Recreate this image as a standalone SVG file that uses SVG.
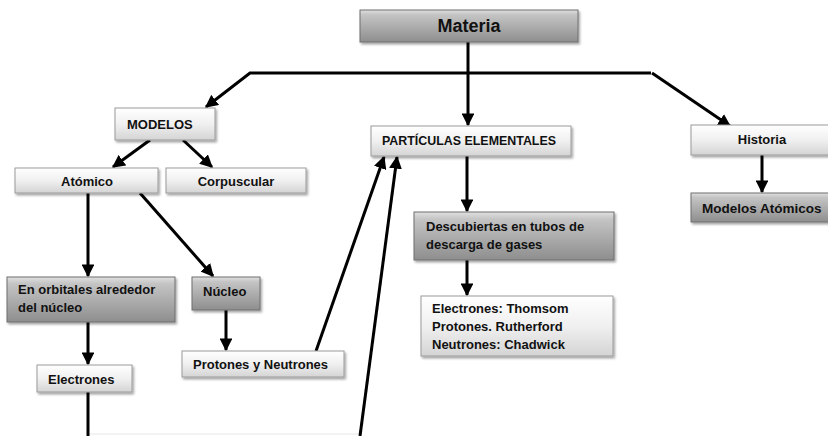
<svg xmlns="http://www.w3.org/2000/svg" width="828" height="436" viewBox="0 0 828 436">
<defs>
<linearGradient id="gLight" x1="0" y1="0" x2="0" y2="1">
<stop offset="0" stop-color="#ffffff"/>
<stop offset="0.5" stop-color="#f0f0f0"/>
<stop offset="1" stop-color="#d4d4d4"/>
</linearGradient>
<linearGradient id="gDark" x1="0" y1="0" x2="0" y2="1">
<stop offset="0" stop-color="#e0e0e0"/>
<stop offset="0.15" stop-color="#c4c4c4"/>
<stop offset="1" stop-color="#8e8e8e"/>
</linearGradient>
<filter id="sh" x="-10%" y="-20%" width="125%" height="160%">
<feDropShadow dx="1.5" dy="2" stdDeviation="1.2" flood-color="#000" flood-opacity="0.35"/>
</filter>
<marker id="ah" viewBox="0 0 10 10" refX="9" refY="5" markerWidth="4.3" markerHeight="4.3" orient="auto" markerUnits="strokeWidth">
<path d="M0,0 L10,5 L0,10 z" fill="#000"/>
</marker>
</defs>
<style>
.light{fill:url(#gLight);stroke:#9a9a9a;stroke-width:1;filter:url(#sh)}
.dark{fill:url(#gDark);stroke:#6e6e6e;stroke-width:1;filter:url(#sh)}
.t{font-family:"Liberation Sans",Arial,sans-serif;font-weight:bold;font-size:13px;fill:#111}
.c{stroke:#000;stroke-width:3;fill:none;stroke-linejoin:miter}
.a{marker-end:url(#ah)}
</style>
<rect width="828" height="436" fill="#fff"/>
<g id="connectors">
<line class="c" x1="88" y1="434" x2="360" y2="434" style="stroke:#e6e6e6;stroke-width:1"/>
<line class="c a" x1="468" y1="42" x2="468" y2="125"/>
<polyline class="c a" points="651,73 250,73 206,107"/>
<polyline class="c a" points="652,73 730,126"/>
<line class="c a" x1="150" y1="140" x2="113" y2="167"/>
<line class="c a" x1="183" y1="140" x2="212" y2="167"/>
<line class="c a" x1="88" y1="193" x2="88" y2="276"/>
<line class="c a" x1="140" y1="193" x2="213" y2="276"/>
<line class="c a" x1="88" y1="322" x2="88" y2="364"/>
<line class="c a" x1="226" y1="310" x2="226" y2="350"/>
<line class="c a" x1="316" y1="351" x2="384" y2="157"/>
<line class="c a" x1="360" y1="436" x2="397" y2="157"/>
<line class="c" x1="88" y1="392" x2="88" y2="436"/>
<line class="c a" x1="467" y1="156" x2="467" y2="211"/>
<line class="c a" x1="467" y1="260" x2="467" y2="295"/>
<line class="c a" x1="762" y1="155" x2="762" y2="192"/>
</g>
<g id="materia">
<rect class="dark" x="360" y="10" width="218" height="32"/>
<text class="t" x="469" y="32" text-anchor="middle" style="font-size:18px">Materia</text>
</g>
<g id="modelos">
<rect class="light" x="115" y="108" width="100" height="32"/>
<text class="t" x="127" y="129">MODELOS</text>
</g>
<g id="atomico">
<rect class="light" x="15" y="168" width="143" height="25"/>
<text class="t" x="87" y="186" text-anchor="middle">Atómico</text>
</g>
<g id="corpuscular">
<rect class="light" x="166" y="168" width="140" height="25"/>
<text class="t" x="236" y="186" text-anchor="middle">Corpuscular</text>
</g>
<g id="orbitales">
<rect class="dark" x="7" y="277" width="168" height="45"/>
<text class="t" x="18" y="294">En orbitales alrededor</text>
<text class="t" x="18" y="312">del núcleo</text>
</g>
<g id="nucleo">
<rect class="dark" x="192" y="277" width="68" height="33"/>
<text class="t" x="203" y="296">Núcleo</text>
</g>
<g id="protones">
<rect class="light" x="182" y="351" width="162" height="26"/>
<text class="t" x="193" y="369">Protones y Neutrones</text>
</g>
<g id="electrones">
<rect class="light" x="37" y="365" width="95" height="27"/>
<text class="t" x="48" y="384">Electrones</text>
</g>
<g id="particulas">
<rect class="light" x="371" y="126" width="200" height="30"/>
<text class="t" x="382" y="145" textLength="174" lengthAdjust="spacingAndGlyphs">PARTÍCULAS ELEMENTALES</text>
</g>
<g id="descubiertas">
<rect class="dark" x="414" y="212" width="200" height="48"/>
<text class="t" x="426" y="231">Descubiertas en tubos de</text>
<text class="t" x="426" y="249">descarga de gases</text>
</g>
<g id="descubridores">
<rect class="light" x="421" y="296" width="192" height="60"/>
<text class="t" x="432" y="313">Electrones: Thomsom</text>
<text class="t" x="432" y="331">Protones. Rutherford</text>
<text class="t" x="432" y="349">Neutrones: Chadwick</text>
</g>
<g id="historia">
<rect class="light" x="691" y="125" width="140" height="30"/>
<text class="t" x="762" y="144" text-anchor="middle">Historia</text>
</g>
<g id="modelos-atomicos">
<rect class="dark" x="691" y="193" width="140" height="29"/>
<text class="t" x="702" y="213" style="font-size:13.5px">Modelos Atómicos</text>
</g>
</svg>
